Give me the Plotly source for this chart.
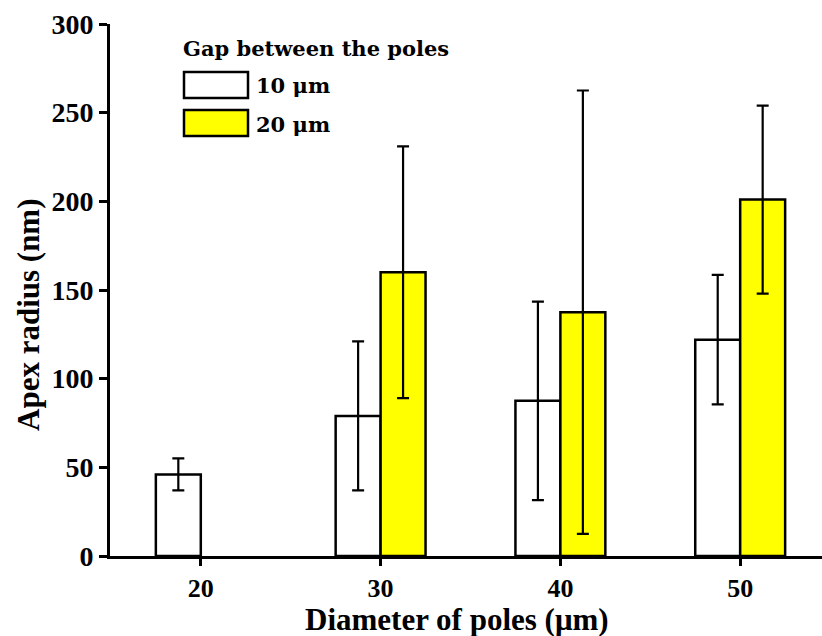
import plotly.graph_objects as go

# Pole diameters (µm) and measured apex radii (nm)
diameters = [20, 30, 40, 50]
gap10_radius = [46, 79, 87.5, 122]
gap10_err = [9, 42, 56, 36.5]
gap20_radius = [None, 160, 137.5, 201]
gap20_err = [None, 71, 125, 53]
series_names = ["10 μm", "20 μm"]
legend_title = "Gap between the poles"
tick_vals_y = [0, 50, 100, 150, 200, 250, 300]

SERIF = "Liberation Serif"
WIDE_SERIF = "DejaVu Serif"
W, H = 822, 636
L, R, T, B = 110, 0, 24, 80
PW, PH = W - L - R, H - T - B


def px(x):
    return (x - L) / PW


def py(y):
    return (H - B - y) / PH


def bold(size, family=SERIF):
    return dict(family=family, size=size, color="black", weight="bold")


bar_w = 2.5
err_style = dict(type="data", visible=True, color="black", thickness=2.2, width=6)

fig = go.Figure()
fig.add_trace(go.Bar(
    x=diameters, y=gap10_radius, width=bar_w, offset=-bar_w,
    name=series_names[0],
    marker=dict(color="white", line=dict(color="black", width=2.5)),
    error_y=dict(array=gap10_err, **err_style),
    showlegend=False,
))
fig.add_trace(go.Bar(
    x=diameters, y=gap20_radius, width=bar_w, offset=0,
    name=series_names[1],
    marker=dict(color="#ffff00", line=dict(color="black", width=2.5)),
    error_y=dict(array=gap20_err, **err_style),
    showlegend=False,
))

# Legend drawn as boxes and labels
fills = ["white", "#ffff00"]
rows = [(72, 98), (110, 136)]
for (y0, y1), fill, label in zip(rows, fills, series_names):
    fig.add_shape(type="rect", xref="paper", yref="paper",
                  x0=px(184), x1=px(248), y0=py(y1), y1=py(y0),
                  fillcolor=fill, line=dict(color="black", width=2.5))
    fig.add_annotation(xref="paper", yref="paper", x=px(254), y=py((y0 + y1) / 2 + 1),
                       text=label, showarrow=False, xanchor="left", yanchor="middle",
                       font=bold(21, WIDE_SERIF))
fig.add_annotation(xref="paper", yref="paper", x=px(181), y=py(48),
                   text=legend_title, showarrow=False, xanchor="left", yanchor="middle",
                   font=bold(21, WIDE_SERIF))

# Axis titles
fig.add_annotation(xref="paper", yref="paper", x=px(457), y=py(619),
                   text="Diameter of poles (μm)", showarrow=False,
                   xanchor="center", yanchor="middle", font=bold(31))
fig.add_annotation(xref="paper", yref="paper", x=px(28), y=py(315),
                   text="Apex radius (nm)", showarrow=False, textangle=-90,
                   xanchor="center", yanchor="middle", font=bold(31))

axis_common = dict(
    ticks="outside", tickwidth=2.5, tickcolor="black",
    showline=True, linecolor="black", linewidth=3,
    showgrid=False, zeroline=False,
)

fig.update_layout(
    width=W, height=H,
    margin=dict(l=L, r=R, t=T, b=B),
    plot_bgcolor="white", paper_bgcolor="white",
    barmode="overlay",
    font=bold(28),
    xaxis=dict(range=[14.95, 54.55], tickvals=diameters, ticklen=7,
               tickfont=bold(26), **axis_common),
    yaxis=dict(range=[0, 300], tickvals=tick_vals_y, ticklen=8,
               tickfont=bold(28), **axis_common),
)

fig.write_html("out.html")
